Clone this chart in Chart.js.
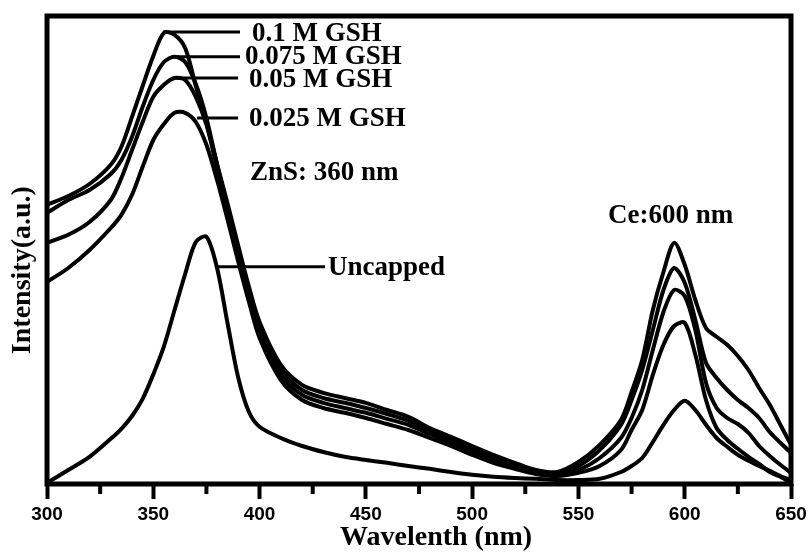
<!DOCTYPE html>
<html>
<head>
<meta charset="utf-8">
<script src="https://cdn.jsdelivr.net/npm/chart.js@4/dist/chart.umd.min.js"></script>
<style>
  html, body { margin: 0; padding: 0; background: #fff; }
  canvas { display: block; }
</style>
</head>
<body>
<canvas id="plChart" width="812" height="553"></canvas>
<script>
// === 1. Data (intensity in a.u.) ===
const wavelengths = [300, 310, 320, 330, 335, 340, 345, 350, 355, 360, 365, 370, 375, 380, 385, 390, 395, 400,
  410, 420, 430, 440, 450, 460, 470, 480, 490, 500, 510, 520, 530, 540, 550, 560, 570, 575, 580, 585, 590,
  595, 600, 605, 610, 615, 620, 625, 630, 635, 640, 645, 650];

const gsh0100 = [69.8, 72, 75, 79.8, 84.3, 91.8, 99.5, 107, 112.8, 112.3, 109, 99.5, 90.3, 80, 70, 59.5, 49.3, 40.5,
  29.8, 24.8, 22.8, 21.5, 20.3, 18.5, 16.8, 14, 11.8, 9.5, 7.3, 5.3, 3.5, 3, 5.5, 9.8, 16, 23, 31, 43.5, 53,
  60.3, 54.8, 46, 39, 36.8, 34.8, 32, 28.5, 24, 19.8, 14.8, 9.8];

const gsh0075 = [67.8, 71, 73.5, 77.5, 81, 86.8, 94.3, 101, 105.5, 106.8, 105.5, 100, 91.5, 79.8, 69, 58.5, 48, 39,
  28.5, 23.5, 21.5, 20.3, 19, 17.5, 15.8, 13.3, 11, 8.8, 6.8, 4.8, 3.3, 2.5, 4.5, 8.5, 14.8, 21, 28.5, 38.5, 48.5,
  54, 50.3, 41, 30.3, 26.5, 23.5, 21, 19, 16.5, 13, 10.3, 7.8];

const gsh0050 = [60.3, 62.3, 65.5, 71, 76.5, 83.5, 90.5, 96.8, 99.8, 101.5, 101, 96.8, 89.8, 79, 68, 57.3, 46.8, 37.8,
  27.3, 22.3, 20.3, 19, 17.8, 16.3, 14.8, 12.5, 10.3, 8, 6, 4.3, 3, 2.3, 3.5, 6.5, 11.5, 16.5, 23.5, 33.5, 43,
  48.5, 47, 38.5, 25.3, 19, 16.5, 15, 12.8, 9.5, 7, 4.8, 2.8];

const gsh0025 = [50.5, 54, 58.5, 64, 67.3, 72.3, 79.3, 86, 90, 92.8, 92.8, 90.5, 84.8, 76, 66, 55.5, 45.5, 36.5,
  26, 21, 19, 17.8, 16.5, 15, 13.5, 11.5, 9.5, 7.3, 5.3, 3.8, 2.5, 2, 2.8, 4.5, 8.5, 13.5, 18.5, 27.3, 34.8,
  39.5, 40.3, 32.3, 21, 14, 11, 8.8, 6.8, 5, 3, 1.8, 0.3];

const uncapped = [0.3, 3.5, 6.8, 11.3, 13.8, 17, 21.3, 27.4, 34.4, 43.5, 52.5, 60.5, 61.8, 54, 40, 26.5, 18, 14.3,
  11.5, 9.5, 8, 6.8, 6, 5.3, 4.5, 3.8, 3, 2.3, 1.8, 1.5, 1.3, 1, 1, 1.3, 3, 4.5, 6.5, 10.5, 14.8,
  18.5, 20.8, 18.5, 14.8, 11.5, 9.3, 7.3, 5.8, 4.5, 3.3, 2, 1];

const majorTicks = [300, 350, 400, 450, 500, 550, 600, 650];
const minorTicks = [325, 375, 425, 475, 525, 575, 625];

// labels on the plot: text, left edge (nm), middle (a.u.)
const labelTexts = ["0.1 M GSH", "0.075 M GSH", "0.05 M GSH", "0.025 M GSH", "ZnS: 360 nm", "Uncapped", "Ce:600 nm"];
const labelX = [396.4, 393.1, 395, 395, 395.5, 432.2, 563.9];
const labelY = [112.5, 106.8, 101, 91.3, 77.8, 54, 67];

// leader lines: from (start, y) to (end, y)
const leaderStart = [354.6, 358.8, 360.2, 370.6, 380.4];
const leaderEnd = [390.8, 390.8, 389.9, 389.9, 430.8];
const leaderY = [113, 106.8, 101.5, 91.5, 54.3];

const xTitle = "Wavelenth (nm)";
const yTitle = "Intensity(a.u.)";

// === 2. Helpers ===
function toPoints(values) {
  return values.map((v, i) => ({ x: wavelengths[i], y: v }));
}

function curve(label, values) {
  return {
    label,
    data: toPoints(values),
    borderColor: "#000",
    borderWidth: 4,
    pointRadius: 0,
    tension: 0.3,
    fill: false,
  };
}

// frame, minor ticks, labels and titles
const decorations = {
  id: "decorations",
  afterDatasetsDraw(chart) {
    const { ctx, chartArea: a, scales } = chart;
    const x = scales.x;
    const y = scales.y;
    ctx.save();
    ctx.strokeStyle = "#000";
    ctx.fillStyle = "#000";

    ctx.lineWidth = 5;
    ctx.strokeRect(a.left, a.top, a.right - a.left, a.bottom - a.top);

    ctx.lineWidth = 4;
    minorTicks.forEach((v) => {
      const px = x.getPixelForValue(v);
      ctx.beginPath();
      ctx.moveTo(px, a.bottom);
      ctx.lineTo(px, a.bottom + 10);
      ctx.stroke();
    });

    ctx.lineWidth = 3;
    leaderStart.forEach((s, i) => {
      const py = y.getPixelForValue(leaderY[i]);
      ctx.beginPath();
      ctx.moveTo(x.getPixelForValue(s), py);
      ctx.lineTo(x.getPixelForValue(leaderEnd[i]), py);
      ctx.stroke();
    });

    ctx.font = 'bold 27px "Liberation Serif", "Times New Roman", serif';
    ctx.textAlign = "left";
    ctx.textBaseline = "middle";
    labelTexts.forEach((t, i) => {
      ctx.fillText(t, x.getPixelForValue(labelX[i]), y.getPixelForValue(labelY[i]));
    });

    ctx.font = 'bold 28px "Liberation Serif", "Times New Roman", serif';
    ctx.textAlign = "center";
    ctx.fillText(xTitle, a.left + (a.right - a.left) * 0.523, 538);

    ctx.translate(23, a.top + (a.bottom - a.top) * 0.543);
    ctx.rotate(-Math.PI / 2);
    ctx.fillText(yTitle, 0, 0);
    ctx.restore();
  },
};

// === 3. Chart ===
new Chart(document.getElementById("plChart").getContext("2d"), {
  type: "line",
  data: {
    datasets: [
      curve("0.1 M GSH", gsh0100),
      curve("0.075 M GSH", gsh0075),
      curve("0.05 M GSH", gsh0050),
      curve("0.025 M GSH", gsh0025),
      curve("Uncapped", uncapped),
    ],
  },
  options: {
    responsive: false,
    animation: false,
    devicePixelRatio: 1,
    layout: { padding: { left: 47, right: 21, top: 16, bottom: 0 } },
    plugins: { legend: { display: false }, tooltip: { enabled: false } },
    scales: {
      x: {
        type: "linear",
        min: 300,
        max: 650,
        afterBuildTicks: (s) => {
          s.ticks = majorTicks.map((v) => ({ value: v }));
        },
        afterFit: (s) => {
          s.height = 69;
        },
        ticks: {
          color: "#000",
          padding: 4,
          font: { family: '"Liberation Sans", Arial, sans-serif', size: 19, weight: "bold" },
        },
        grid: {
          drawOnChartArea: false,
          tickLength: 15,
          tickWidth: 4,
          tickColor: "#000",
        },
        border: { display: false },
      },
      y: {
        display: false,
        min: 0,
        max: 117,
      },
    },
  },
  plugins: [decorations],
});
</script>
</body>
</html>
